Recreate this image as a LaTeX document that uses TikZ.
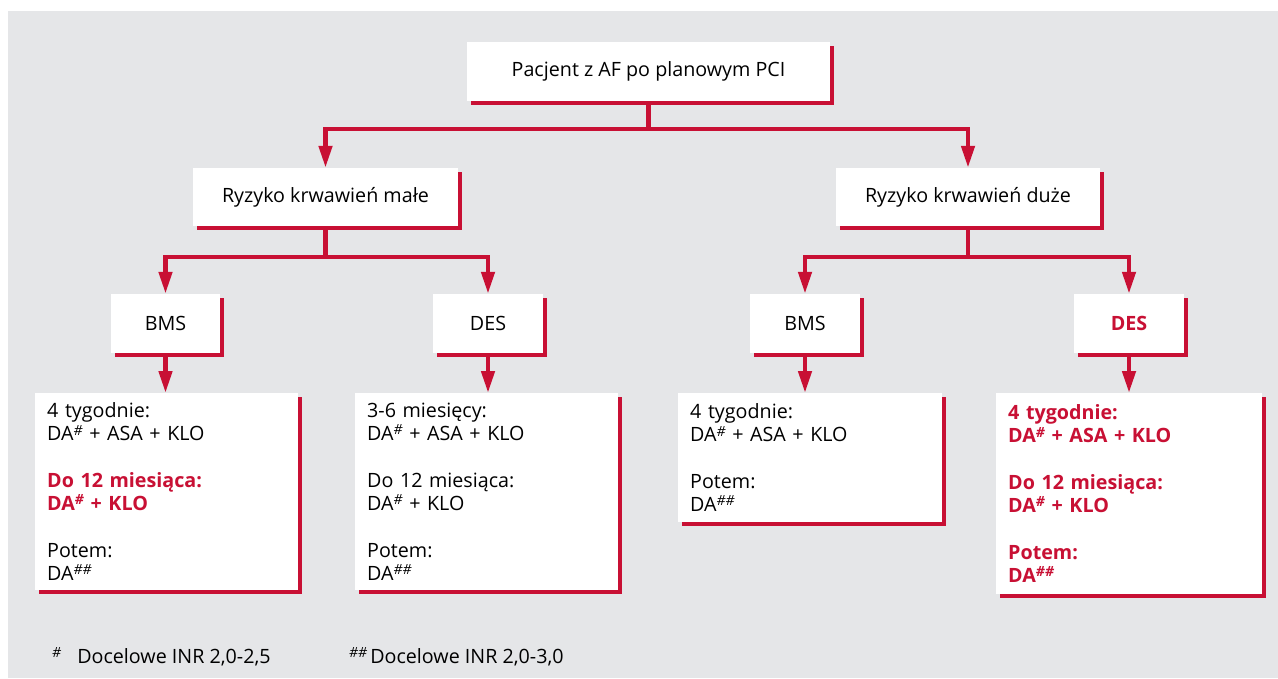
\documentclass[tikz,border=0pt]{standalone}
\usepackage{fontspec}
\setmainfont{Open Sans}
\usetikzlibrary{arrows.meta,shadows}
\definecolor{crim}{RGB}{200,16,52}
\definecolor{bggray}{RGB}{229,230,232}
\newcommand{\hs}{\raisebox{0.55ex}{\fontsize{14}{14}\selectfont\textit{\#}}}
\newcommand{\hhs}{\raisebox{0.55ex}{\fontsize{14}{14}\selectfont\textit{\#\#}}}
\begin{document}
\begin{tikzpicture}[x=1pt, y=-1pt,
  box/.style={fill=white, inner sep=0pt, font=\fontsize{19.7}{22}\selectfont,
    drop shadow={shadow xshift=4pt, shadow yshift=-4pt, fill=crim, opacity=1}},
  listbox/.style={box, anchor=north west, align=left, inner xsep=12pt, inner ysep=6pt,
    font=\fontsize{19.7}{23.3}\selectfont},
  hot/.style={text=crim, font=\bfseries\fontsize{19.7}{23.3}\selectfont},
  conn/.style={draw=crim, line width=4.5pt},
  arr/.style={conn, -{Triangle[width=13pt,length=22pt]}}]
  \useasboundingbox (0,0) rectangle (1278,678);
  \fill[bggray] (8,11) rectangle (1278,678);

  % poziom 1 i 2
  \node[box, minimum width=363pt, minimum height=59pt] (pac) at (648.5,71.5) {Pacjent z AF po planowym PCI};
  \node[box, minimum width=265pt, minimum height=58pt] (low) at (325.5,197) {Ryzyko krwawień małe};
  \node[box, minimum width=264pt, minimum height=58pt] (high) at (968,197) {Ryzyko krwawień duże};

  % stenty
  \node[box, minimum width=109pt, minimum height=59pt] (bmsL) at (165.5,323.5) {BMS};
  \node[box, minimum width=110pt, minimum height=59pt] (desL) at (488,323.5) {DES};
  \node[box, minimum width=110pt, minimum height=59pt] (bmsR) at (805,323.5) {BMS};
  \node[box, minimum width=110pt, minimum height=59pt, text=crim, font=\bfseries\fontsize{19.7}{22}\selectfont] (desR) at (1129,323.5) {DES};

  % leczenie
  \node[listbox, text width=239pt, minimum height=197pt] (t1) at (35,393)
    {4 tygodnie:\\DA\hs{} + ASA + KLO\\[23.3pt]
     {\color{crim}\bfseries Do 12 miesiąca:}\\{\color{crim}\bfseries DA\hs{} + KLO}\\[23.3pt]
     Potem:\\DA\hhs};
  \node[listbox, text width=239pt, minimum height=197pt] (t2) at (355,393)
    {3-6 miesięcy:\\DA\hs{} + ASA + KLO\\[23.3pt]
     Do 12 miesiąca:\\DA\hs{} + KLO\\[23.3pt]
     Potem:\\DA\hhs};
  \node[listbox, text width=240pt, minimum height=129pt] (t3) at (678,393)
    {4 tygodnie:\\DA\hs{} + ASA + KLO\\[23.3pt]
     Potem:\\DA\hhs};
  \node[listbox, hot, text width=242pt, minimum height=201pt] (t4) at (996,393)
    {4 tygodnie:\\DA\hs{} + ASA + KLO\\[23.3pt]
     Do 12 miesiąca:\\DA\hs{} + KLO\\[23.3pt]
     Potem:\\DA\hhs};

  % rozgalezienia
  \coordinate (j1) at (648.5,129);
  \coordinate (j2) at (325.5,257);
  \coordinate (j3) at (968,257);
  \draw[conn] (pac.south) -- (j1);
  \draw[arr] (j1) -| (low.north);
  \draw[arr] (j1) -| (high.north);
  \draw[conn] (low.south) -- (j2);
  \draw[arr] (j2) -| (bmsL.north);
  \draw[arr] (j2) -| (desL.north);
  \draw[conn] (high.south) -- (j3);
  \draw[arr] (j3) -| (bmsR.north);
  \draw[arr] (j3) -| (desR.north);
  \foreach \s/\t in {bmsL/t1, desL/t2, bmsR/t3, desR/t4}
    \draw[arr] (\s.south) -- (\s.south |- \t.north);

  % przypisy
  \node[anchor=base west, inner sep=0pt, font=\fontsize{19.7}{22}\selectfont] (fn1) at (52,663)
    {\hs\hspace{16pt}Docelowe INR 2,0-2,5};
  \node[anchor=base west, inner sep=0pt, font=\fontsize{19.7}{22}\selectfont] (fn2) at (349,663)
    {\hhs\hspace{3pt}Docelowe INR 2,0-3,0};
\end{tikzpicture}
\end{document}
